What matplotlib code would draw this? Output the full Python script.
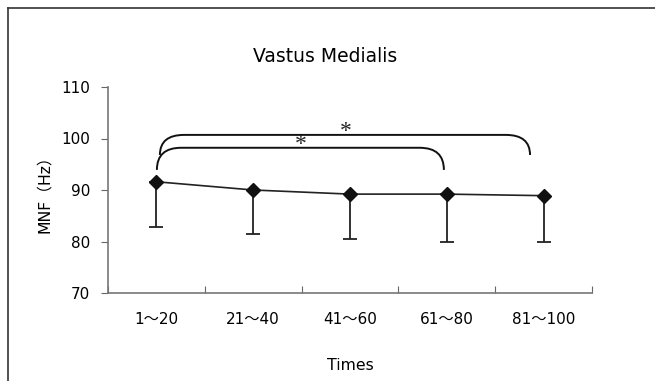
import matplotlib
matplotlib.use("Agg")
import matplotlib.pyplot as plt
from matplotlib.path import Path
from matplotlib.patches import PathPatch
from matplotlib.lines import Line2D

plt.rcParams['font.family'] = ['DejaVu Sans', 'Noto Sans CJK JP']

categories = ["1～20", "21～40", "41～60", "61～80", "81～100"]
means = [91.6, 90.0, 89.2, 89.2, 88.9]
lower_err = [8.7, 8.5, 8.7, 9.3, 9.0]
title = "Vastus Medialis"
xlabel = "Times"
ylabel = "MNF（Hz）"
yticks = [70, 80, 90, 100, 110]

# significance brackets: (x_left, x_right, y_left_end, y_right_end, y_top, label_x)
brackets = [
    (0.005, 2.97, 93.9, 93.9, 98.2, 1.49),
    (0.036, 3.86, 96.8, 96.8, 100.7, 1.96),
]

fig = plt.figure(figsize=(6.55, 3.81), dpi=100)
ax = fig.add_axes([108/655, 1-293/381, (592-108)/655, (293-87)/381])

x = list(range(len(categories)))
ax.errorbar(x, means, yerr=[lower_err, [0]*len(means)], fmt='none',
            ecolor='#222222', elinewidth=1.3, capsize=4.7, capthick=1.3)
ax.plot(x, means, color='#222222', lw=1.2, marker='D', markersize=7.5,
        markerfacecolor='#111111', markeredgecolor='#111111', zorder=3)

ax.set_xlim(-0.5, 4.5)
ax.set_ylim(70, 110)
ax.set_yticks(yticks)
ax.set_xticks([i - 0.5 for i in range(len(categories) + 1)])
ax.set_xticklabels([])
ax.set_xticks(x, minor=True)
ax.set_xticklabels(categories, minor=True, fontsize=11)
ax.tick_params(axis='x', which='major', direction='in', length=5, color='#666666')
ax.tick_params(axis='x', which='minor', length=0, pad=14)
ax.tick_params(axis='y', direction='out', length=5, color='#666666', labelsize=11, pad=8)
for s in ['top', 'right']:
    ax.spines[s].set_visible(False)
for s in ['left', 'bottom']:
    ax.spines[s].set_color('#777777')
    ax.spines[s].set_linewidth(1.2)

for (xl, xr, yl, yr, yt, lx) in brackets:
    dx = 0.25
    verts = [(xl, yl), (xl, yt), (xl + dx, yt), (xr - dx, yt), (xr, yt), (xr, yr)]
    codes = [Path.MOVETO, Path.CURVE3, Path.CURVE3, Path.LINETO, Path.CURVE3, Path.CURVE3]
    ax.add_patch(PathPatch(Path(verts, codes), fill=False, lw=1.4, edgecolor='#111111'))
    ax.text(lx, yt + 0.7, "*", ha='center', va='center', fontsize=17,
            family='Liberation Serif', color='#222222')

fig.text(325/655, 1-56/381, title, ha='center', va='center', fontsize=13.5)
fig.text(350/655, 1-365/381, xlabel, ha='center', va='center', fontsize=11.3)
fig.text(44/655, 1-190/381, ylabel, ha='center', va='center', rotation=90, fontsize=11.3)

# outer frame
fig.add_artist(Line2D([8/655, 8/655], [0, 1-8/381], color='#333333', lw=1.2))
fig.add_artist(Line2D([8/655, 1], [1-8/381, 1-8/381], color='#333333', lw=1.2))

fig.savefig("out.png", dpi=100)
